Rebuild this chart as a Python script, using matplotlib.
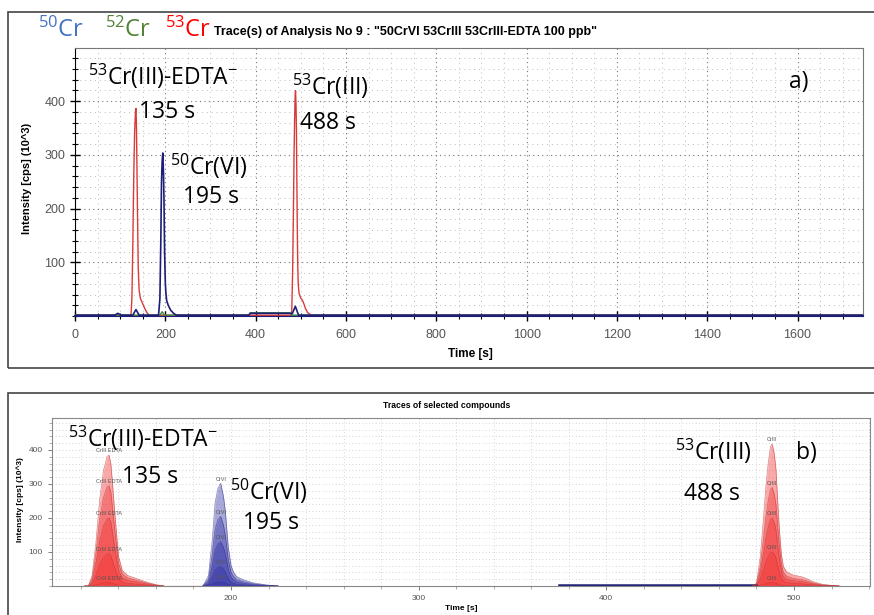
import numpy as np
import matplotlib
matplotlib.use("Agg")
import matplotlib.pyplot as plt
from matplotlib.patches import Rectangle
from matplotlib.ticker import MultipleLocator

plt.rcParams['font.family'] = ['Liberation Sans', 'DejaVu Sans']
plt.rcParams['mathtext.default'] = 'regular'

# peak shapes (time [s], fraction of peak height)
edta_t = [122, 124, 126, 128, 130, 132, 134, 135, 136, 138, 140, 142, 145, 150, 155, 160, 164]
edta_rel = [0, 0.0, 0.08, 0.33, 0.66, 0.88, 0.99, 1.0, 0.93, 0.57, 0.23, 0.12, 0.08, 0.055, 0.03, 0.01, 0]
crvi_t = [185, 188, 189, 190, 191.5, 193, 194.5, 196, 197, 198.5, 200, 201.2, 203, 206.6, 212, 219, 225]
crvi_rel = [0, 0.1, 0.28, 0.45, 0.81, 0.95, 1.0, 0.87, 0.72, 0.38, 0.2, 0.14, 0.09, 0.06, 0.03, 0.01, 0]
criii_t = [478, 480, 482, 483.7, 485, 486.3, 487.5, 488.4, 489.5, 490.4, 491.3, 492.2, 493.3,
           494.3, 496, 499.6, 504, 507, 510.3, 515, 521, 524]
criii_rel = [0, 0.02, 0.2, 0.47, 0.7, 0.87, 0.98, 1.0, 0.93, 0.82, 0.6, 0.4, 0.22,
             0.14, 0.1, 0.077, 0.065, 0.05, 0.03, 0.012, 0.003, 0]

# peak heights (10^3 cps) of the calibration levels, highest = 100 ppb run
edta_levels = [385, 295, 200, 95, 10]
crvi_levels = [302, 205, 130, 57, 12]
criii_levels = [418, 290, 200, 100, 10]

base = 1.5
# minor features of the 50Cr and 52Cr traces in analysis 9
cr50_extra_t = [0, 88, 95, 102, 128, 135, 142]
cr50_extra_i = [base, base, 5, base, base, 12, base]
cr50_tail_t = [385, 388, 478, 481, 488, 495, 1745]
cr50_tail_i = [base, 5, 5, 4, 18, base, base]
cr52_t = [0, 188, 193, 198, 385, 388, 476, 479, 1745]
cr52_i = [base, base, 8, base, base, 6, 6, base, base]

fig = plt.figure(figsize=(8.74, 6.15), dpi=100)

# panel frames
fig.patches.append(Rectangle((8 / 874, 1 - 368 / 615), 1.0, 356 / 615, transform=fig.transFigure,
                             fill=False, ec='#444444', lw=1.2))
fig.patches.append(Rectangle((8 / 874, -0.01), 1.0, 1 - 393 / 615 + 0.01, transform=fig.transFigure,
                             fill=False, ec='#444444', lw=1.2))

# ---------- a) trace of analysis 9 ----------
ax = fig.add_axes([75 / 874, 1 - 316 / 615, 788 / 874, 268 / 615])
cr53_t = [0] + edta_t + criii_t + [1745]
cr53_i = ([base] + list(np.array(edta_rel) * edta_levels[0] + base)
          + list(np.array(criii_rel) * criii_levels[0] + base) + [base])
cr50_t = cr50_extra_t + crvi_t + cr50_tail_t
cr50_i = cr50_extra_i + list(np.array(crvi_rel) * crvi_levels[0] + base) + cr50_tail_i

ax.plot(cr53_t, cr53_i, color='#d83a3a', lw=1.0, zorder=3)
ax.plot(cr52_t, cr52_i, color='#3c8a3c', lw=1.0, zorder=3)
ax.plot(cr50_t, cr50_i, color='#1e1e78', lw=1.2, zorder=4)

ax.set_xlim(0, 1745)
ax.set_ylim(0, 499)
ax.xaxis.set_major_locator(MultipleLocator(200))
ax.xaxis.set_minor_locator(MultipleLocator(50))
ax.set_yticks([100, 200, 300, 400])
ax.yaxis.set_minor_locator(MultipleLocator(20))
ax.grid(which='major', ls=(0, (1, 3)), color='#777777', lw=0.8)
ax.grid(which='minor', ls=(0, (1, 4)), color='#bbbbbb', lw=0.7)
ax.tick_params(which='major', direction='inout', length=7, width=1, labelsize=9, labelcolor='#555555')
ax.tick_params(which='minor', direction='inout', length=4, width=0.8)
ax.tick_params(axis='x', pad=6)
for s in ['top', 'right']:
    ax.spines[s].set_color('#777777')
ax.spines['bottom'].set_color('#1e1e78')
ax.spines['bottom'].set_linewidth(1.5)
ax.set_axisbelow(True)

big = dict(family=['Open Sans', 'DejaVu Sans'], fontsize=16.5, va='center', ha='left', color='black', zorder=6)
ax.text(29, 447, r"$^{53}$Cr(III)-EDTA$^{-}$", **big)
ax.text(142, 380, "135 s", **big)
ax.text(210, 279, r"$^{50}$Cr(VI)", **big)
ax.text(239, 222, "195 s", **big)
ax.text(480, 428, r"$^{53}$Cr(III)", **big)
ax.text(498, 359, "488 s", **big)
ax.text(1582, 436, "a)", **big)

fig.text(470 / 874, 1 - 354 / 615, "Time [s]", fontsize=8.5, fontweight='bold', ha='center', va='center')
fig.text(27 / 874, 1 - 178 / 615, "Intensity [cps] (10^3)", fontsize=8, fontweight='bold',
         rotation=90, ha='center', va='center')

hdr = dict(family=['Open Sans', 'DejaVu Sans'], fontsize=17, va='center', ha='left')
fig.text(38 / 874, 1 - 30 / 615, r"$^{50}$Cr", color='#4472c4', **hdr)
fig.text(105 / 874, 1 - 30 / 615, r"$^{52}$Cr", color='#548235', **hdr)
fig.text(165 / 874, 1 - 30 / 615, r"$^{53}$Cr", color='#ff0000', **hdr)
fig.text(214 / 874, 1 - 32 / 615, 'Trace(s) of Analysis No 9 : "50CrVI 53CrIII 53CrIII-EDTA 100 ppb"',
         fontsize=9, fontweight='bold', ha='left', va='center')

# ---------- b) traces of selected compounds ----------
bx = fig.add_axes([52 / 874, 1 - 586 / 615, 818 / 874, 168 / 615])
red = (0.95, 0.2, 0.2)
blue = (0.2, 0.2, 0.65)
bx.plot([160, 186], [1, 1], color='#c03030', lw=0.8)
bx.plot([375, 480], [2.5, 2.5], color='#1e1e78', lw=1.8)
groups = [(edta_t, edta_rel, edta_levels, red, '#c03030', 'CrIII EDTA'),
          (crvi_t, crvi_rel, crvi_levels, blue, '#2a2a8a', 'CrVI'),
          (criii_t, criii_rel, criii_levels, red, '#c03030', 'CrIII')]
for t, rel, levels, fc, ec, name in groups:
    t = np.array(t)
    rel = np.array(rel)
    pk = t[np.argmax(rel)]
    for h in levels:
        bx.fill_between(t, 0, rel * h, color=fc, alpha=0.42, lw=0)
        bx.plot(t, rel * h, color=ec, lw=0.5, alpha=0.6)
        bx.text(pk, h + 12, name, fontsize=4, color='#555555', ha='center', va='center', zorder=2)

bx.set_xlim(104.6, 540.5)
bx.set_ylim(0, 494)
bx.set_xticks([200, 300, 400, 500])
bx.xaxis.set_minor_locator(MultipleLocator(20))
bx.set_yticks([100, 200, 300, 400])
bx.yaxis.set_minor_locator(MultipleLocator(20))
bx.grid(which='both', ls=(0, (1, 3)), color='#c8c8c8', lw=0.6)
bx.tick_params(which='major', direction='out', length=3, width=0.6, labelsize=6, labelcolor='#555555',
               color='#666666')
bx.tick_params(which='minor', direction='out', length=2, width=0.5, color='#888888')
for s in bx.spines.values():
    s.set_color('#888888')
bx.set_axisbelow(True)

bx.text(113.1, 435, r"$^{53}$Cr(III)-EDTA$^{-}$", **big)
bx.text(141.9, 320, "135 s", **big)
bx.text(199.5, 279, r"$^{50}$Cr(VI)", **big)
bx.text(206.4, 185, "195 s", **big)
bx.text(436.7, 397, r"$^{53}$Cr(III)", **big)
bx.text(441.5, 270, "488 s", **big)
bx.text(501.2, 391, "b)", **big)

fig.text(447 / 874, 1 - 406 / 615, "Traces of selected compounds", fontsize=6.2, fontweight='bold',
         ha='center', va='center')
fig.text(461 / 874, 1 - 609 / 615, "Time [s]", fontsize=6, fontweight='bold', ha='center', va='center')
fig.text(20 / 874, 1 - 500 / 615, "Intensity [cps] (10^3)", fontsize=6, fontweight='bold',
         rotation=90, ha='center', va='center')

fig.savefig("out.png", dpi=100)
